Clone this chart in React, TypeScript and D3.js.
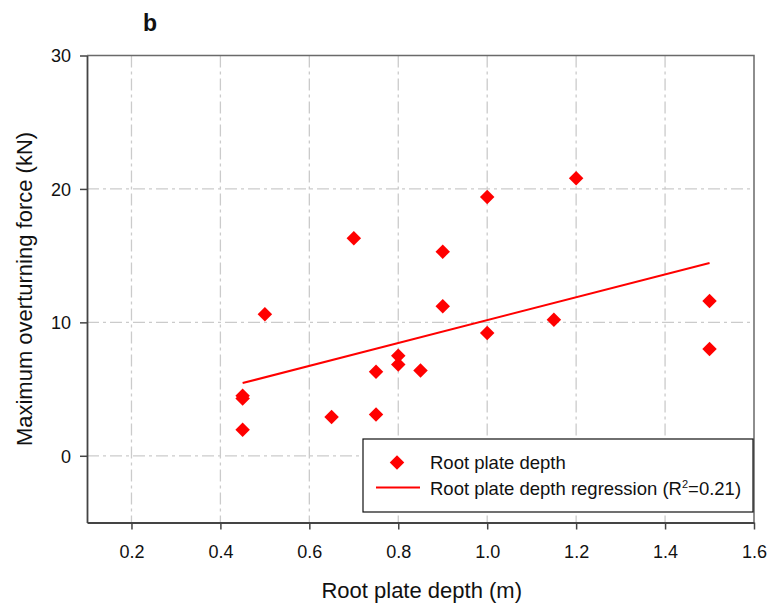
import * as d3 from "d3";
import React, { useRef, useEffect } from "react";

// root plate depth (m) vs maximum overturning force (kN)
const depth = [0.45, 0.45, 0.45, 0.5, 0.65, 0.7, 0.75, 0.75, 0.8, 0.8, 0.85, 0.9, 0.9, 1.0, 1.0, 1.15, 1.2, 1.5, 1.5];
const force = [4.5, 4.3, 1.95, 10.6, 2.9, 16.3, 6.3, 3.1, 7.5, 6.85, 6.4, 15.3, 11.2, 19.4, 9.2, 10.2, 20.8, 11.6, 8.0];

// regression line end points
const regDepth = [0.45, 1.5];
const regForce = [5.45, 14.45];

const xTicks = [0.2, 0.4, 0.6, 0.8, 1.0, 1.2, 1.4, 1.6];
const yTicks = [0, 10, 20, 30];

const W = 769;
const H = 605;
const margin = { top: 55.5, right: 15, bottom: 82.5, left: 87 };
const FONT = "Liberation Sans, Arial, sans-serif";

const draw = (el: SVGSVGElement) => {
  const svg = d3.select(el);
  svg.selectAll("*").remove();

  const x = d3.scaleLinear().domain([0.1, 1.6]).range([margin.left, W - margin.right]);
  const y = d3.scaleLinear().domain([-5, 30]).range([H - margin.bottom, margin.top]);

  const x0 = x.range()[0], x1 = x.range()[1];
  const y0 = y.range()[0], y1 = y.range()[1];

  // grid
  const grid = svg.append("g").attr("stroke", "#cbcbcb").attr("stroke-width", 1.3)
    .attr("stroke-dasharray", "12,4,3,4");
  grid.selectAll(".gx").data(xTicks.slice(0, -1)).join("line")
    .attr("x1", (d) => x(d)).attr("x2", (d) => x(d))
    .attr("y1", y1).attr("y2", y0);
  grid.selectAll(".gy").data(yTicks.slice(0, -1)).join("line")
    .attr("x1", x0).attr("x2", x1)
    .attr("y1", (d) => y(d)).attr("y2", (d) => y(d));

  // frame top/right
  svg.append("path")
    .attr("d", `M${x0},${y1}H${x1}V${y0}`)
    .attr("fill", "none").attr("stroke", "#6a6a6a").attr("stroke-width", 1.5);

  // axes
  const xAxis = d3.axisBottom(x).tickValues(xTicks).tickFormat(d3.format(".1f")).tickSize(7).tickSizeOuter(0);
  const yAxis = d3.axisLeft(y).tickValues(yTicks).tickFormat(d3.format("d")).tickSize(7).tickSizeOuter(0);

  const gx = svg.append("g").attr("transform", `translate(0,${y0})`).call(xAxis);
  const gy = svg.append("g").attr("transform", `translate(${x0},0)`).call(yAxis);
  [gx, gy].forEach((g) => {
    g.select(".domain").attr("stroke", "#444").attr("stroke-width", 1.8);
    g.selectAll(".tick line").attr("stroke", "#444").attr("stroke-width", 1.5);
    g.selectAll(".tick text").attr("fill", "#111").style("font-family", FONT).style("font-size", "18px");
  });
  gx.selectAll(".tick text").attr("dy", "1.4em");
  gy.selectAll(".tick text").attr("x", -16).attr("dy", "0.36em");

  // regression
  const line = d3.line<number>().x((d) => x(d)).y((d, i) => y(regForce[i]));
  svg.append("path").datum(regDepth).attr("d", line)
    .attr("fill", "none").attr("stroke", "#ff0000").attr("stroke-width", 2);

  // points
  const diamond = d3.symbol().type(d3.symbolSquare).size(105);
  svg.append("g").selectAll("path").data(depth).join("path")
    .attr("d", diamond)
    .attr("transform", (d, i) => `translate(${x(d)},${y(force[i])}) rotate(45)`)
    .attr("fill", "#ff0000");

  // legend
  const lg = svg.append("g");
  lg.append("rect").attr("x", 363).attr("y", 439).attr("width", 390).attr("height", 73)
    .attr("fill", "#fff").attr("stroke", "#111").attr("stroke-width", 1.2);
  lg.append("path").attr("d", diamond)
    .attr("transform", "translate(397,462.5) rotate(45)").attr("fill", "#ff0000");
  lg.append("line").attr("x1", 376).attr("x2", 420).attr("y1", 487.5).attr("y2", 487.5)
    .attr("stroke", "#ff0000").attr("stroke-width", 2);
  const lt = lg.append("g").style("font-family", FONT).style("font-size", "18.5px").attr("fill", "#111");
  lt.append("text").attr("x", 430).attr("y", 469).text("Root plate depth");
  const t2 = lt.append("text").attr("x", 430).attr("y", 495);
  t2.append("tspan").text("Root plate depth regression (R");
  t2.append("tspan").attr("dy", -7).style("font-size", "11px").text("2");
  t2.append("tspan").attr("dy", 7).text("=0.21)");

  // titles
  svg.append("text").attr("x", 421.7).attr("y", 598).attr("text-anchor", "middle")
    .style("font-family", FONT).style("font-size", "22px").attr("fill", "#111")
    .text("Root plate depth (m)");
  svg.append("text").attr("transform", "translate(32,289) rotate(-90)").attr("text-anchor", "middle")
    .style("font-family", FONT).style("font-size", "22px").attr("fill", "#111")
    .text("Maximum overturning force (kN)");
  svg.append("text").attr("x", 143).attr("y", 30.5)
    .style("font-family", FONT).style("font-size", "23px").style("font-weight", "bold").attr("fill", "#111")
    .text("b");
};

const App = () => {
  const ref = useRef<SVGSVGElement>(null);
  useEffect(() => {
    if (ref.current) draw(ref.current);
  }, []);
  return (
    <svg
      ref={ref}
      width={W}
      height={H}
      style={{ position: "absolute", left: 0, top: 0, background: "#fff" }}
    />
  );
};

export default App;
